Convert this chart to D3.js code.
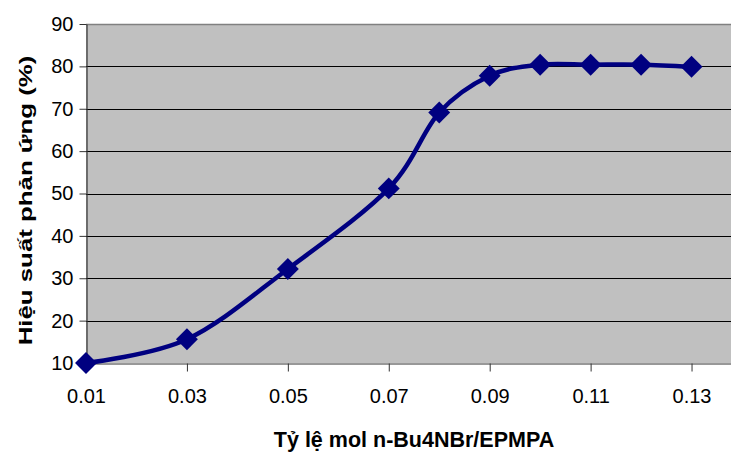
<!DOCTYPE html>
<html>
<head>
<meta charset="utf-8">
<script src="https://cdn.jsdelivr.net/npm/d3@7"></script>
<style>
  body { margin: 0; background: #fff; }
  svg { display: block; font-family: "Liberation Sans", Arial, sans-serif; }
</style>
</head>
<body>
<script>
// data
var ratios = [0.01, 0.03, 0.05, 0.07, 0.08, 0.09, 0.10, 0.11, 0.12, 0.13];
var yields = [10, 15.6, 32.2, 51.2, 69.1, 77.8, 80.4, 80.4, 80.4, 79.9];
var xTicks = [0.01, 0.03, 0.05, 0.07, 0.09, 0.11, 0.13];
var yTicks = [10, 20, 30, 40, 50, 60, 70, 80, 90];

var w = 731, h = 452;
var pLeft = 86, pTop = 24, pRight = 742, pBottom = 363;

var svg = d3.select("body").append("svg")
    .attr("width", w)
    .attr("height", h);

var x = d3.scaleLinear().domain([0.01, 0.14]).range([pLeft, pRight]);
var y = d3.scaleLinear().domain([10, 90]).range([pBottom, pTop]);

// plot area
svg.append("rect")
    .attr("x", pLeft).attr("y", pTop)
    .attr("width", pRight - pLeft).attr("height", pBottom - pTop)
    .style("fill", "#C0C0C0");

// gridlines
svg.append("g").selectAll("line")
    .data(yTicks.filter(function(d){ return d > 10 && d < 90; }))
    .join("line")
    .attr("x1", pLeft).attr("x2", pRight)
    .attr("y1", function(d){ return Math.round(y(d)) + 0.5; })
    .attr("y2", function(d){ return Math.round(y(d)) + 0.5; })
    .style("stroke", "#000").style("stroke-width", 1);

// top border
svg.append("line")
    .attr("x1", pLeft).attr("x2", pRight)
    .attr("y1", pTop + 0.5).attr("y2", pTop + 0.5)
    .style("stroke", "#808080").style("stroke-width", 1.5);

// y axis
var yAxis = svg.append("g")
    .attr("transform", "translate(" + (pLeft + 0.5) + ",0)")
    .call(d3.axisLeft(y).tickValues(yTicks).tickSize(7).tickPadding(6).tickSizeOuter(0));

// x axis
var xAxis = svg.append("g")
    .attr("transform", "translate(0," + (pBottom + 0.5) + ")")
    .call(d3.axisBottom(x).tickValues(xTicks).tickFormat(d3.format(".2f")).tickSize(8).tickPadding(17).tickSizeOuter(0));

[yAxis, xAxis].forEach(function(g){
    g.select(".domain").style("stroke", "#333").style("stroke-width", 1.2);
    g.selectAll(".tick line").style("stroke", "#333");
    g.selectAll("text").style("font-size", "20px").style("fill", "#000")
        .style("font-family", "'Liberation Sans', Arial, sans-serif");
});

// curve
var pts = ratios.map(function(r, i){ return [r, yields[i]]; });
var line = d3.line()
    .x(function(d){ return x(d[0]); })
    .y(function(d){ return y(d[1]); })
    .curve(d3.curveCatmullRom.alpha(0));

svg.append("path")
    .datum(pts)
    .attr("d", line)
    .style("fill", "none")
    .style("stroke", "#000080")
    .style("stroke-width", 4.5);

// diamond markers
svg.append("g").selectAll("path")
    .data(pts)
    .join("path")
    .attr("d", d3.symbol(d3.symbolSquare, 240))
    .attr("transform", function(d){ return "translate(" + x(d[0]) + "," + y(d[1]) + ") rotate(45)"; })
    .style("fill", "#000080");

// axis titles
svg.append("text")
    .attr("x", (pLeft + pRight) / 2)
    .attr("y", 447)
    .attr("text-anchor", "middle")
    .style("font-size", "21.5px").style("font-weight", "bold")
    .text("Tỷ lệ mol n-Bu4NBr/EPMPA");

// rotated title is drawn wider in the original, so stretch along the text
svg.append("text")
    .attr("transform", "translate(32,200.5) rotate(-90) scale(1.36,1)")
    .attr("text-anchor", "middle")
    .style("font-size", "19px").style("font-weight", "bold")
    .text("Hiệu suất phản ứng (%)");
</script>
</body>
</html>
